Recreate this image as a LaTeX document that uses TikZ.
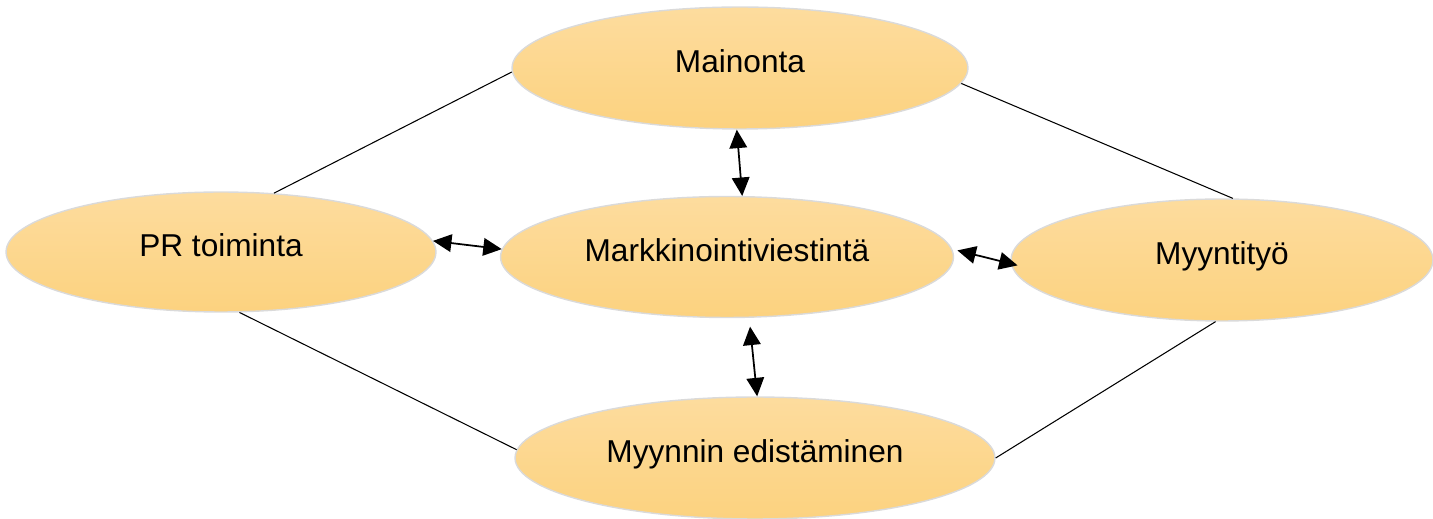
\documentclass[tikz,border=0pt]{standalone}
\usepackage{fontspec}
\setmainfont{Liberation Sans}
\usetikzlibrary{shapes.geometric,arrows.meta}
\definecolor{BlobTop}{HTML}{FDDC9E}
\definecolor{BlobBottom}{HTML}{FCD27F}
\definecolor{BlobEdge}{HTML}{DADADA}

\begin{document}
\begin{tikzpicture}[x=0.02cm,y=-0.02cm,
    blob/.style={ellipse,draw=BlobEdge,line width=0.8pt,top color=BlobTop,bottom color=BlobBottom,inner sep=0pt,font=\fontsize{18}{21}\selectfont,text height=14pt,text depth=8.6pt},
    link/.style={black,line width=0.6pt},
    both/.style={{Triangle[length=10.5pt,width=10pt]}-{Triangle[length=10.5pt,width=10pt]},black,line width=1pt}]
        \useasboundingbox (0,0) rectangle (1433,519);
        \node[blob,minimum width=9.12cm,minimum height=2.44cm] (main) at (740,68) {Mainonta};
        \node[blob,minimum width=8.6cm,minimum height=2.4cm] (pr) at (221,252) {PR toiminta};
        \node[blob,minimum width=9.06cm,minimum height=2.42cm] (markk) at (727,257) {Markkinointiviestintä};
        \node[blob,minimum width=8.44cm,minimum height=2.44cm] (myy) at (1222,260) {Myyntityö};
        \node[blob,minimum width=9.6cm,minimum height=2.44cm] (myn) at (755,458) {Myynnin edistäminen};
        \draw[link] (pr.48) -- (main.181);
        \draw[link] (main.-4) -- (myy.80);
        \draw[link] (pr.-73) -- (myn.178);
        \draw[link] (myn.east) -- (myy.-96);
        \draw[both] (main.-93) -- (markk.76);
        \draw[both] (pr.3) -- (markk.178);
        \draw[both,shorten <=3pt,shorten >=-4pt] (markk.2) -- (myy.181);
        \draw[both,shorten <=5pt] (markk.-70) -- (myn.88);
      \end{tikzpicture}
\end{document}
